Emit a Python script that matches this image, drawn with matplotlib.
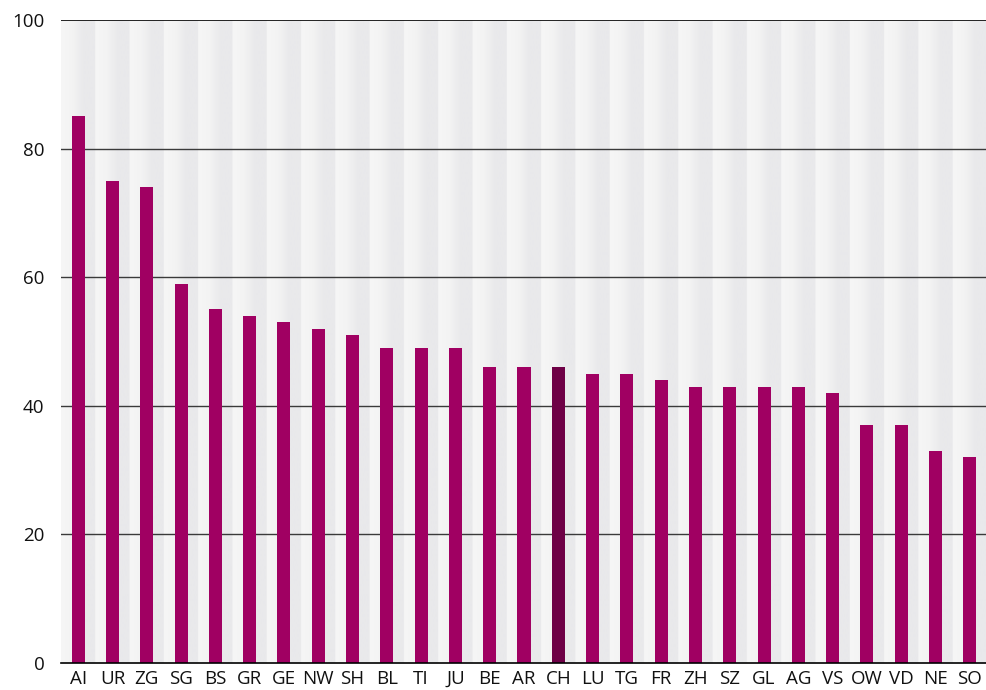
import matplotlib
matplotlib.use("Agg")
import matplotlib.pyplot as plt
import numpy as np
from matplotlib.colors import LinearSegmentedColormap

categories = ["AI", "UR", "ZG", "SG", "BS", "GR", "GE", "NW", "SH", "BL", "TI", "JU", "BE", "AR",
              "CH", "LU", "TG", "FR", "ZH", "SZ", "GL", "AG", "VS", "OW", "VD", "NE", "SO"]
values = [85, 75, 74, 59, 55, 54, 53, 52, 51, 49, 49, 49, 46, 46,
          46, 45, 45, 44, 43, 43, 43, 43, 42, 37, 37, 33, 32]
highlight = "CH"
yticks = [0, 20, 40, 60, 80, 100]

plt.rcParams['font.family'] = ['Open Sans', 'DejaVu Sans']

fig = plt.figure(figsize=(9.87, 6.9), dpi=100)
ax = fig.add_axes([61/987, 1-663/690, 926/987, 643/690])

n = len(categories)
x = np.arange(n)
ax.set_xlim(-0.5, n-0.5)
ax.set_ylim(0, 100)

# striped gradient background
cmap = LinearSegmentedColormap.from_list("bg", ["#f6f6f6", "#f3f3f3", "#e9e9eb", "#e9e9eb"])
grad = np.tile(np.linspace(0, 1, 64), n)[None, :]
ax.imshow(grad, cmap=cmap, aspect="auto", extent=(-0.5, n-0.5, 0, 100), zorder=0, interpolation="bilinear")

for t in yticks[1:-1]:
    ax.axhline(t, color="#3a3a3a", lw=1.0, zorder=1)
ax.axhline(100, color="#000000", lw=1.2, zorder=1)

colors = ["#6e0046" if c == highlight else "#a00062" for c in categories]
ax.bar(x, values, width=0.38, color=colors, zorder=2)

for s in ["top", "right", "left"]:
    ax.spines[s].set_visible(False)
ax.spines["bottom"].set_color("black")
ax.spines["bottom"].set_linewidth(1.2)
ax.spines["bottom"].set_zorder(3)

ax.set_xticks(x)
ax.set_xticklabels(categories, fontsize=13.5)
ax.set_yticks(yticks)
ax.set_yticklabels([str(t) for t in yticks], fontsize=13.5)
ax.tick_params(axis="both", length=0, colors="#111111")
ax.tick_params(axis="x", pad=5)
ax.tick_params(axis="y", pad=12)

fig.savefig("out.png", dpi=100)
